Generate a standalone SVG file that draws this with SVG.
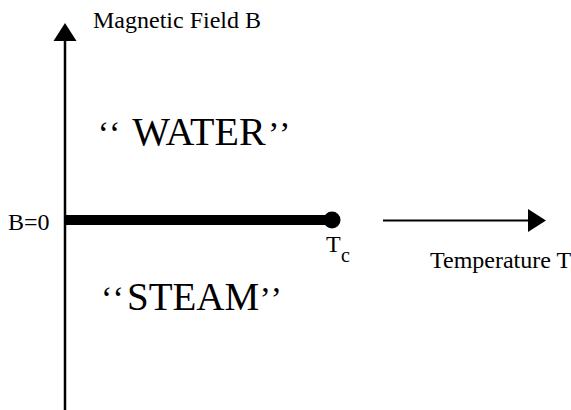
<svg xmlns="http://www.w3.org/2000/svg" width="571" height="410" viewBox="0 0 571 410">
<style>
text{font-family:"Liberation Serif","Times New Roman",serif;fill:#000}
.lbl{font-size:24px}
.big{font-size:40px}
.q{font-size:34px}
.ax{stroke:#000;stroke-width:2.5;fill:none}
.head{fill:#000}
</style>
<rect width="571" height="410" fill="#fff"/>
<g id="connectors">
<line class="ax" x1="65" y1="40" x2="65" y2="410"/>
<polygon class="head" points="65,23 53.5,41 76.5,41"/>
<line class="ax" x1="383" y1="220.5" x2="530" y2="220.5" style="stroke-width:2"/>
<polygon class="head" points="546,220.5 528,209 528,232"/>
</g>
<g id="phase-line">
<line x1="65" y1="220" x2="331" y2="220" stroke="#000" stroke-width="10"/>
<circle cx="332" cy="220" r="8.5" fill="#000"/>
</g>
<g id="labels">
<text class="lbl" x="93" y="28">Magnetic Field B</text>
<text class="lbl" x="8" y="230">B=0</text>
<text class="lbl" x="430" y="268">Temperature T</text>
<text class="lbl" x="326" y="251.5">T</text>
<text x="341" y="262" style="font-size:20px">c</text>
<text class="big" y="145"><tspan class="q" x="97.8">‘</tspan><tspan class="q" x="109.1">‘</tspan><tspan x="123"> WATER</tspan><tspan class="q" x="268">’</tspan><tspan class="q" x="279">’</tspan></text>
<text class="big" y="310"><tspan class="q" x="101">‘</tspan><tspan class="q" x="112.5">‘</tspan><tspan x="127" style="font-size:39px">STEAM</tspan><tspan class="q" x="259.5">’</tspan><tspan class="q" x="270.5">’</tspan></text>
</g>
</svg>
